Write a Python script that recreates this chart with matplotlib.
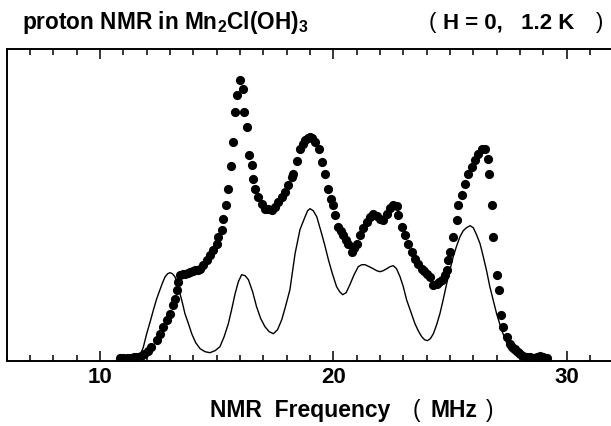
import numpy as np
import matplotlib
matplotlib.use("Agg")
import matplotlib.pyplot as plt
from matplotlib.ticker import MultipleLocator, FixedLocator

plt.rcParams['font.family'] = ['Liberation Sans', 'Noto Sans CJK JP', 'DejaVu Sans']
plt.rcParams['font.weight'] = 'bold'

# measured spectrum (dots), intensity in arbitrary units
meas_freq = [10.86, 11.0, 11.15, 11.3, 11.45, 11.6, 11.75, 11.9, 12.05, 12.2,
             12.43, 12.57, 12.71, 12.86, 13.0, 13.14, 13.21, 13.29, 13.36, 13.43,
             13.54, 13.64, 13.75, 13.86, 13.97, 14.07, 14.18, 14.29, 14.43, 14.57,
             14.71, 14.86, 15.0, 15.07, 15.21, 15.29, 15.40, 15.50, 15.60, 15.69,
             15.79, 15.89, 16.0, 16.11, 16.19, 16.29, 16.40, 16.50, 16.54, 16.64,
             16.79, 16.93, 17.07, 17.21, 17.36, 17.5, 17.64, 17.79, 17.93, 18.07,
             18.21, 18.29, 18.43, 18.57, 18.68, 18.79, 18.9, 19.0, 19.1, 19.21,
             19.4, 19.5, 19.64, 19.79, 19.88, 19.97, 20.07, 20.21, 20.32, 20.43,
             20.54, 20.64, 20.79, 20.9, 21.0, 21.14, 21.29, 21.43, 21.57, 21.71,
             21.86, 22.0, 22.14, 22.29, 22.43, 22.57, 22.71, 22.79, 22.93, 23.07,
             23.21, 23.36, 23.5, 23.64, 23.79, 23.9, 24.0, 24.14, 24.29, 24.43,
             24.54, 24.64, 24.79, 24.86, 24.93, 25.0, 25.14, 25.29, 25.36, 25.5,
             25.64, 25.79, 25.93, 26.07, 26.21, 26.36, 26.5, 26.64, 26.69, 26.79,
             26.86, 27.0, 27.1, 27.21, 27.29, 27.43, 27.57, 27.68, 27.79, 27.9,
             28.0, 28.15, 28.29, 28.43, 28.57, 28.72, 28.86, 29.0, 29.14]
meas_int = [3, 3, 3, 3, 3.5, 4, 5, 7, 10, 14,
            21, 27, 34, 41, 47, 56, 62, 71, 79, 86,
            87, 87, 88, 89, 90, 91, 91, 92, 96, 101,
            106, 111, 117, 124, 131, 142, 156, 172, 195, 219,
            249, 266, 281, 272, 249, 234, 206, 196, 182, 172,
            164, 157, 152, 152, 151, 154, 159, 164, 169, 176,
            184, 187, 200, 212, 217, 221, 223, 224, 223, 219,
            212, 199, 187, 172, 162, 156, 146, 134, 130, 126,
            121, 117, 109, 113, 117, 126, 133, 139, 144, 147,
            145, 142, 141, 147, 153, 156, 155, 146, 134, 126,
            117, 109, 102, 97, 92, 90, 87, 84, 76, 77,
            79, 81, 86, 91, 101, 109, 124, 141, 156, 166,
            177, 187, 194, 201, 207, 212, 212, 202, 187, 156,
            124, 86, 71, 46, 34, 24, 17, 14, 12, 9,
            7, 5, 4, 3.5, 3, 4, 5, 4, 3]

# calculated spectrum (thin line)
calc_freq = [11.5, 11.7, 11.85, 12.0, 12.15, 12.29, 12.43, 12.57, 12.68, 12.79,
             12.9, 13.0, 13.1, 13.21, 13.32, 13.43, 13.54, 13.64, 13.79, 13.93,
             14.1, 14.29, 14.5, 14.71, 14.93, 15.14, 15.32, 15.5, 15.64, 15.79,
             15.93, 16.07, 16.22, 16.36, 16.54, 16.71, 16.89, 17.07, 17.25, 17.43,
             17.61, 17.79, 17.96, 18.14, 18.36, 18.57, 18.79, 18.9, 19.0, 19.14,
             19.29, 19.5, 19.64, 19.79, 19.96, 20.14, 20.27, 20.4, 20.55, 20.71,
             20.89, 21.07, 21.22, 21.36, 21.54, 21.71, 21.86, 22.0, 22.14, 22.29,
             22.43, 22.57, 22.71, 22.86, 23.0, 23.14, 23.32, 23.5, 23.64, 23.79,
             23.91, 24.03, 24.16, 24.29, 24.43, 24.57, 24.71, 24.86, 25.0, 25.14,
             25.29, 25.43, 25.57, 25.71, 25.86, 26.0, 26.14, 26.29, 26.43, 26.57,
             26.71, 26.86, 27.0, 27.21, 27.36, 27.5, 27.64, 27.79, 28.0]
calc_int = [1, 5, 13, 27, 39, 51, 62, 71, 78, 84,
            87, 88, 87, 84, 77, 67, 57, 47, 37, 27,
            18, 12, 9, 8, 10, 14, 24, 37, 51, 67,
            79, 86, 85, 81, 69, 54, 42, 34, 29, 27,
            31, 41, 55, 71, 107, 131, 144, 150, 152, 150,
            144, 127, 115, 101, 87, 74, 69, 66, 68, 76,
            86, 94, 96, 96, 94, 92, 90, 89, 90, 92,
            94, 95, 92, 84, 74, 61, 49, 37, 30, 24,
            21, 20, 22, 27, 36, 47, 61, 77, 91, 104,
            115, 124, 130, 133, 135, 133, 126, 117, 104, 90,
            74, 60, 47, 31, 22, 14, 9, 6, 3]

fig = plt.figure(figsize=(6.11, 4.26), dpi=100)
# plot box runs past the right edge of the picture, as in the original crop
ax = fig.add_axes([0.011, 0.1533, 1.0087, 0.7317])

ax.plot(calc_freq, calc_int, color='black', lw=1.0, zorder=2)
ax.plot(meas_freq, meas_int, 'o', color='black', ms=6.6, mew=0, zorder=3)

ax.set_xlim(6, 32.42)
ax.set_ylim(0, 311.7)

ax.xaxis.set_major_locator(FixedLocator([10, 20, 30]))
ax.xaxis.set_minor_locator(MultipleLocator(1))
ax.tick_params(axis='x', which='both', direction='in', top=True, bottom=True,
               labelsize=16, pad=4.5, width=1.1)
ax.tick_params(axis='x', which='major', length=7.5)
ax.tick_params(axis='x', which='minor', length=4.5)
ax.set_yticks([])
for sp in ax.spines.values():
    sp.set_linewidth(1.4)
ax.spines['right'].set_visible(False)

fig.text(0.036, 0.932, r"proton NMR in Mn$_{\mathregular{2}}$Cl(OH)$_{\mathregular{3}}$",
         fontsize=16.3, fontweight='bold', ha='left', va='baseline')

# header "( H = 0,  1.2 K )"
fig.text(432 / 611, 0.934, "(", fontsize=16, fontweight='normal',
         ha='center', va='baseline')
fig.text(443 / 611, 0.934, "H = 0,   1.2 K", fontsize=16, fontweight='bold',
         ha='left', va='baseline')
fig.text(600 / 611, 0.934, ")", fontsize=16, fontweight='normal',
         ha='center', va='baseline')

# x axis title "NMR  Frequency  ( MHz )"
fig.text(210 / 611, 0.022, "NMR  Frequency", fontsize=16.5, fontweight='bold',
         ha='left', va='baseline')
fig.text(416 / 611, 0.022, "(", fontsize=16.5, fontweight='normal',
         ha='center', va='baseline')
fig.text(430 / 611, 0.022, "MHz", fontsize=16.5, fontweight='bold',
         ha='left', va='baseline')
fig.text(490 / 611, 0.022, ")", fontsize=16.5, fontweight='normal',
         ha='center', va='baseline')

fig.savefig("out.png", dpi=100)
